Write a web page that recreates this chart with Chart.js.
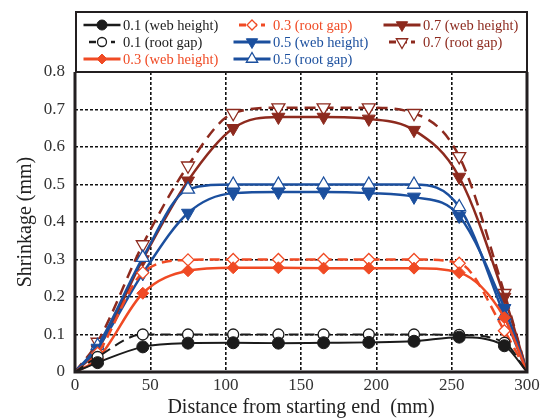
<!DOCTYPE html>
<html><head><meta charset="utf-8">
<script src="https://cdn.jsdelivr.net/npm/chart.js@4.4.0/dist/chart.umd.min.js"></script>
<style>html,body{margin:0;padding:0;background:#fff}#wrap{width:550px;height:420px;position:relative}</style>
</head><body><div id="wrap"><canvas id="c" width="550" height="420"></canvas></div>
<script>
// ---- data ----
const distances = [0, 15, 45, 75, 105, 135, 165, 195, 225, 255, 285, 300];
const xTickLabels = ['0', '50', '100', '150', '200', '250', '300'];
const yTickLabels = ['0', '0.1', '0.2', '0.3', '0.4', '0.5', '0.6', '0.7', '0.8'];
const seriesLabels = ['0.1 (web height)', '0.1 (root gap)', '0.3 (web height)', '0.3 (root gap)',
  '0.5 (web height)', '0.5 (root gap)', '0.7 (web height)', '0.7 (root gap)'];
const web01  = [0, 0.025, 0.067, 0.077, 0.078, 0.077, 0.078, 0.079, 0.082, 0.093, 0.070, 0];
const root01 = [0, 0.040, 0.100, 0.100, 0.100, 0.100, 0.100, 0.100, 0.100, 0.099, 0.078, 0];
const web03  = [0, 0.035, 0.210, 0.270, 0.278, 0.278, 0.277, 0.277, 0.277, 0.265, 0.145, 0];
const root03 = [0, 0.050, 0.265, 0.299, 0.300, 0.300, 0.300, 0.300, 0.300, 0.290, 0.110, 0];
const web05  = [0, 0.064, 0.263, 0.424, 0.477, 0.480, 0.480, 0.477, 0.467, 0.416, 0.170, 0];
const root05 = [0, 0.070, 0.305, 0.487, 0.500, 0.500, 0.500, 0.500, 0.500, 0.440, 0.150, 0];
const web07  = [0, 0.060, 0.300, 0.510, 0.650, 0.680, 0.680, 0.675, 0.645, 0.520, 0.200, 0];
const root07 = [0, 0.080, 0.340, 0.550, 0.690, 0.705, 0.705, 0.705, 0.690, 0.575, 0.210, 0];

// ---- styles ----
const BLACK = '#1b1b1b', RED = '#f04a24', BLUE = '#1b4f9e', DRED = '#8d2a1e';
const FONT = '"Liberation Serif", "Times New Roman", serif';
const seriesValues = [web01, root01, web03, root03, web05, root05, web07, root07];
const styles = [
  {c: BLACK, shape: 'circle', open: false, dash: [], w: 2, r: 6},
  {c: BLACK, shape: 'circle', open: true, dash: [10, 6], w: 2, r: 5.5},
  {c: RED, shape: 'diamond', open: false, dash: [], w: 2.5, r: 6},
  {c: RED, shape: 'diamond', open: true, dash: [10, 6], w: 2.5, r: 6},
  {c: BLUE, shape: 'down', open: false, dash: [], w: 2.5, r: 7.5},
  {c: BLUE, shape: 'up', open: true, dash: [], w: 2.5, r: 7.5},
  {c: DRED, shape: 'down', open: false, dash: [], w: 2.5, r: 7.5},
  {c: DRED, shape: 'down', open: true, dash: [11, 7], w: 2.5, r: 7.5}
];
const psMap = {circle: ['circle', 0], diamond: ['rectRot', 0], down: ['triangle', 180], up: ['triangle', 0]};

const datasets = seriesValues.map((vals, i) => {
  const s = styles[i];
  return {
    label: seriesLabels[i],
    data: distances.map((x, j) => ({x: x, y: vals[j]})),
    borderColor: s.c,
    borderWidth: s.w,
    borderDash: s.dash,
    pointStyle: psMap[s.shape][0],
    pointRotation: psMap[s.shape][1],
    pointRadius: distances.map((x, j) => (j === 0 || j === distances.length - 1) ? 0 : s.r),
    pointBackgroundColor: s.open ? '#ffffff' : s.c,
    pointBorderColor: s.c,
    pointBorderWidth: s.open ? 1.3 : 1,
    cubicInterpolationMode: 'monotone',
    fill: false
  };
});

function drawMarker(ctx, s, x, y) {
  const r = s.r;
  ctx.save();
  ctx.beginPath();
  if (s.shape === 'circle') {
    ctx.arc(x, y, r, 0, Math.PI * 2);
  } else if (s.shape === 'diamond') {
    ctx.moveTo(x, y - r); ctx.lineTo(x + r, y); ctx.lineTo(x, y + r); ctx.lineTo(x - r, y);
  } else if (s.shape === 'down') {
    ctx.moveTo(x - r * 0.87, y - r * 0.5); ctx.lineTo(x + r * 0.87, y - r * 0.5); ctx.lineTo(x, y + r);
  } else {
    ctx.moveTo(x - r * 0.87, y + r * 0.5); ctx.lineTo(x + r * 0.87, y + r * 0.5); ctx.lineTo(x, y - r);
  }
  ctx.closePath();
  ctx.fillStyle = s.open ? '#fff' : s.c;
  ctx.fill();
  ctx.lineWidth = s.open ? 1.3 : 1;
  ctx.strokeStyle = s.c;
  ctx.setLineDash([]);
  ctx.stroke();
  ctx.restore();
}

const legendLayout = [
  {i: 0, col: 0, row: 0}, {i: 1, col: 0, row: 1}, {i: 2, col: 0, row: 2},
  {i: 3, col: 1, row: 0}, {i: 4, col: 1, row: 1}, {i: 5, col: 1, row: 2},
  {i: 6, col: 2, row: 0}, {i: 7, col: 2, row: 1}
];

const customPlugin = {
  id: 'custom',
  afterDraw(chart) {
    const ctx = chart.ctx;
    const a = chart.chartArea;
    ctx.save();
    // frame
    ctx.strokeStyle = '#231f20';
    ctx.setLineDash([]);
    ctx.lineWidth = 3;
    ctx.beginPath();
    ctx.moveTo(a.left, a.top); ctx.lineTo(a.left, a.bottom); ctx.lineTo(a.right, a.bottom); ctx.lineTo(a.right, a.top);
    ctx.stroke();
    // legend box
    ctx.lineWidth = 2;
    ctx.strokeRect(a.left + 1, 12, a.right - a.left - 1, a.top - 12);
    // legend entries
    const colText = [123, 273, 423];
    const colLineC = [102, 252, 402];
    const rowY = [25, 42, 59];
    ctx.font = '14.5px ' + FONT;
    ctx.textBaseline = 'middle';
    ctx.textAlign = 'left';
    legendLayout.forEach(e => {
      const s = styles[e.i];
      const y = rowY[e.row];
      const half = s.dash.length ? 13 : 18.5;
      const cx = colLineC[e.col];
      ctx.strokeStyle = s.c;
      ctx.lineWidth = s.w + 0.5;
      ctx.setLineDash(s.dash.length ? [7, 4] : []);
      ctx.beginPath();
      ctx.moveTo(cx - half, y); ctx.lineTo(cx + half, y);
      ctx.stroke();
      ctx.setLineDash([]);
      drawMarker(ctx, {...s, r: s.r - 1}, cx, y);
      ctx.fillStyle = s.c;
      ctx.fillText(seriesLabels[e.i], colText[e.col], y + 1);
    });
    ctx.restore();
  }
};

new Chart(document.getElementById('c'), {
  type: 'line',
  data: {datasets: datasets},
  options: {
    responsive: false,
    animation: false,
    layout: {padding: {top: 72, right: 23, left: 0, bottom: 0}},
    plugins: {legend: {display: false}, tooltip: {enabled: false}},
    scales: {
      x: {
        type: 'linear', min: 0, max: 300,
        ticks: {stepSize: 50, padding: 3, color: '#333', font: {family: FONT, size: 17},
          callback: (v, idx) => xTickLabels[idx]},
        grid: {color: '#111', lineWidth: 1.6, drawTicks: false},
        border: {display: false, dash: [3, 2]},
        title: {display: true, text: 'Distance from starting end  (mm)', color: '#222',
          font: {family: FONT, size: 20}, padding: {top: 0, bottom: 0}},
        afterFit: s => { s.height = 48; }
      },
      y: {
        min: 0, max: 0.8,
        ticks: {stepSize: 0.1, padding: 10, color: '#333', font: {family: FONT, size: 17},
          callback: (v, idx) => yTickLabels[idx]},
        grid: {color: '#111', lineWidth: 1.6, drawTicks: false},
        border: {display: false, dash: [3, 2]},
        title: {display: true, text: 'Shrinkage (mm)', color: '#222',
          font: {family: FONT, size: 20}, padding: {top: 14, bottom: 0}},
        afterFit: s => { s.width = 75; }
      }
    }
  },
  plugins: [customPlugin]
});
</script></body></html>
